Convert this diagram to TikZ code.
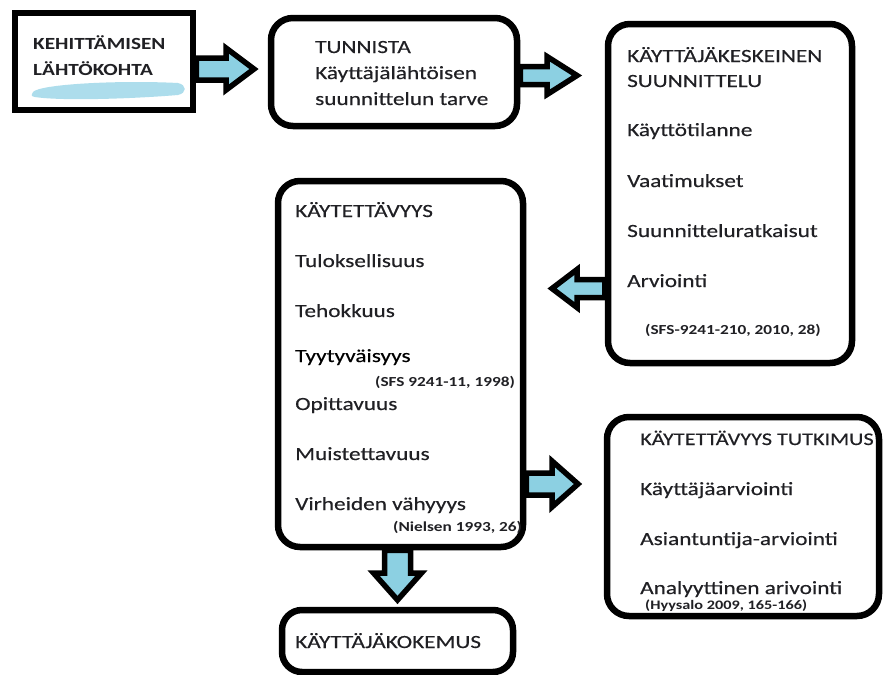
\documentclass[tikz,border=0pt]{standalone}
\usepackage{fontspec}
\setmainfont{Carlito}[FakeStretch=1.25]
\newfontfamily\bodyfont{Carlito}[FakeStretch=1.25, FakeBold=0.35]
\usetikzlibrary{calc}

\definecolor{inkgray}{RGB}{32,32,36}
\definecolor{arrowblue}{RGB}{140,208,226}
\definecolor{brushblue}{RGB}{165,218,234}

\tikzset{
  box/.style={draw=black, line width=6.5pt, fill=white, inner sep=0pt},
  roundbox/.style={box, rounded corners=22pt},
  txt/.style={anchor=base west, inner sep=0pt, text=inkgray,
              font=\bodyfont\fontsize{18.6}{22}\selectfont},
  note/.style={anchor=base west, inner sep=0pt, text=inkgray,
               font=\fontsize{13.8}{16}\selectfont\bfseries},
  barrow/.style={draw=black, fill=arrowblue, line width=5.5pt, line join=miter},
}

% horizontal block arrow: start, tip, shaft half-width, head half-width, signed head length
\newcommand\harrow[5]{%
  \draw[barrow] let \p1=(#1), \p2=(#2) in
    ({\x1},{\y1-#3pt}) -- ({\x2-(#5pt)},{\y1-#3pt}) -- ({\x2-(#5pt)},{\y1-#4pt}) -- ({\x2},{\y1})
    -- ({\x2-(#5pt)},{\y1+#4pt}) -- ({\x2-(#5pt)},{\y1+#3pt}) -- ({\x1},{\y1+#3pt}) -- cycle;}
% vertical block arrow: start, tip, shaft half-width, head half-width, signed head length
\newcommand\varrow[5]{%
  \draw[barrow] let \p1=(#1), \p2=(#2) in
    ({\x1-#3pt},{\y1}) -- ({\x1-#3pt},{\y2-(#5pt)}) -- ({\x1-#4pt},{\y2-(#5pt)}) -- ({\x1},{\y2})
    -- ({\x1+#4pt},{\y2-(#5pt)}) -- ({\x1+#3pt},{\y2-(#5pt)}) -- ({\x1+#3pt},{\y1}) -- cycle;}

\begin{document}
\begin{tikzpicture}[x=1pt, y=-1pt]
\useasboundingbox (0,0) rectangle (887,675);

% ---- boxes ----
\node[box, minimum width=178pt, minimum height=97pt] (start) at (104,61.5) {};
\node[roundbox, minimum width=246pt, minimum height=108pt] (need) at (394,72) {};
\node[roundbox, minimum width=244pt, minimum height=339pt] (ucd) at (730,193.5) {};
\node[roundbox, minimum width=245pt, minimum height=366pt] (usab) at (400.5,364) {};
\node[roundbox, rounded corners=20pt, minimum width=231pt, minimum height=62pt] (ux) at (397.5,641) {};
\node[roundbox, minimum width=272pt, minimum height=199pt] (research) at (743,516.5) {};

% brush stroke under the starting point
\fill[brushblue, opacity=0.9]
  (33,92) .. controls (40,84) and (120,80) .. (178,83)
  .. controls (187,85) and (187,93) .. (178,95)
  .. controls (130,99) and (60,101) .. (35,97)
  .. controls (31,96) .. cycle;

% ---- arrows ----
\coordinate (a1s) at (start.east |- 0,69);
\coordinate (a1t) at (254,69);
\harrow{a1s}{a1t}{11}{21}{28}

\coordinate (a2s) at (need.east |- 0,75.5);
\coordinate (a2t) at (577,75.5);
\harrow{a2s}{a2t}{9}{19}{30}

\coordinate (a3s) at (ucd.west |- 0,288.5);
\coordinate (a3t) at (552,288.5);
\harrow{a3s}{a3t}{9}{19}{-25}

\coordinate (a4s) at (usab.east |- 0,484);
\coordinate (a4t) at (578,484);
\harrow{a4s}{a4t}{11}{23}{26}

\coordinate (a5s) at (397.5,0 |- usab.south);
\coordinate (a5t) at (397.5,600);
\varrow{a5s}{a5t}{13}{24}{-27}

% ---- texts ----
\node[txt, font=\fontsize{17}{20}\selectfont\bfseries] (t1a) at (33,49) {KEHITTÄMISEN};
\node[txt, font=\fontsize{17}{20}\selectfont\bfseries] (t1b) at (33,75) {LÄHTÖKOHTA};

\node[txt] (t2a) at (315,53) {TUNNISTA};
\node[txt] (t2b) at (315,79) {Käyttäjälähtöisen};
\node[txt] (t2c) at (315,105) {suunnittelun tarve};

\node[txt] (t3a) at (627,62) {KÄYTTÄJÄKESKEINEN};
\node[txt] (t3b) at (627,87) {SUUNNITTELU};
\node[txt] (t3c) at (627,136) {Käyttötilanne};
\node[txt] (t3d) at (627,187) {Vaatimukset};
\node[txt] (t3e) at (627,237) {Suunnitteluratkaisut};
\node[txt] (t3f) at (627,287) {Arviointi};
\node[note] (t3g) at (645,334) {(SFS-9241-210, 2010, 28)};

\node[txt] (t4a) at (295,217) {KÄYTETTÄVYYS};
\node[txt] (t4b) at (295,267) {Tuloksellisuus};
\node[txt] (t4c) at (295,317) {Tehokkuus};
\node[txt, text=black] (t4d) at (295,362) {Tyytyväisyys};
\node[note] (t4e) at (375,386) {(SFS 9241-11, 1998)};
\node[txt] (t4f) at (295,410) {Opittavuus};
\node[txt] (t4g) at (295,460) {Muistettavuus};
\node[txt] (t4h) at (295,510) {Virheiden vähyyys};
\node[note] (t4i) at (393,531) {(Nielsen 1993, 26)};

\node[txt] (t5) at (295,648) {KÄYTTÄJÄKOKEMUS};

\node[txt, font=\bodyfont\fontsize{17.8}{22}\selectfont] (t6a) at (640,445) {KÄYTETTÄVYYS TUTKIMUS};
\node[txt] (t6b) at (640,495) {Käyttäjäarviointi};
\node[txt] (t6c) at (640,545) {Asiantuntija-arviointi};
\node[txt] (t6d) at (640,594) {Analyyttinen arivointi};
\node[note, font=\fontsize{13}{15}\selectfont\bfseries] (t6e) at (645,609) {(Hyysalo 2009, 165-166)};
\end{tikzpicture}
\end{document}
